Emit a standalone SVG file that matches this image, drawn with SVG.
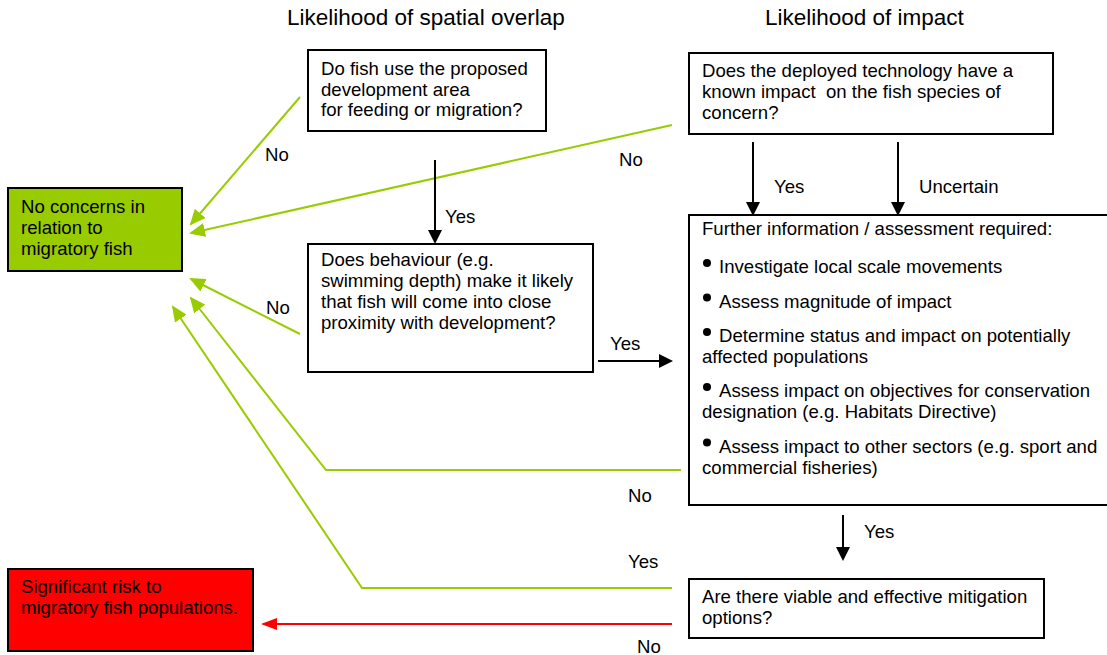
<svg xmlns="http://www.w3.org/2000/svg" width="1107" height="655" viewBox="0 0 1107 655">
<style>
text { font-family: "Liberation Sans", Arial, sans-serif; font-size: 18.6px; fill: #000; }
.title { font-size: 22.5px; }
.box { fill: #fff; stroke: #000; stroke-width: 2; }
.g { fill: none; stroke: #99cc00; stroke-width: 2; }
.k { fill: none; stroke: #000; stroke-width: 2; }
.r { fill: none; stroke: #ff0000; stroke-width: 2; }
</style>
<defs>
<marker id="ag" viewBox="0 0 16 14" refX="14" refY="7" markerWidth="16" markerHeight="14" orient="auto" markerUnits="userSpaceOnUse"><path d="M0,0 L16,7 L0,14 z" fill="#99cc00"/></marker>
<marker id="ak" viewBox="0 0 14 14" refX="12" refY="7" markerWidth="14" markerHeight="14" orient="auto" markerUnits="userSpaceOnUse"><path d="M0,0 L14,7 L0,14 z" fill="#000"/></marker>
<marker id="ar" viewBox="0 0 16 12" refX="14" refY="6" markerWidth="16" markerHeight="12" orient="auto" markerUnits="userSpaceOnUse"><path d="M0,0 L16,6 L0,12 z" fill="#ff0000"/></marker>
</defs>

<text class="title" x="287" y="25">Likelihood of spatial overlap</text>
<text class="title" x="765" y="25">Likelihood of impact</text>

<g id="connectors">
<line class="g" x1="300" y1="97" x2="191" y2="224" marker-end="url(#ag)"/>
<line class="g" x1="672" y1="125" x2="191" y2="233" marker-end="url(#ag)"/>
<line class="g" x1="300" y1="334" x2="191" y2="279" marker-end="url(#ag)"/>
<polyline class="g" points="681,470 326,470 191,298" marker-end="url(#ag)"/>
<polyline class="g" points="672,588 362,588 173,307" marker-end="url(#ag)"/>
<line class="r" x1="672" y1="624" x2="263" y2="624" marker-end="url(#ar)"/>
<line class="k" x1="435" y1="160" x2="435" y2="242" marker-end="url(#ak)"/>
<line class="k" x1="753" y1="142" x2="753" y2="214" marker-end="url(#ak)"/>
<line class="k" x1="898" y1="142" x2="898" y2="214" marker-end="url(#ak)"/>
<line class="k" x1="598" y1="361" x2="671" y2="361" marker-end="url(#ak)"/>
<line class="k" x1="843" y1="515" x2="843" y2="559" marker-end="url(#ak)"/>
<text x="265" y="161">No</text>
<text x="619" y="166">No</text>
<text x="445" y="223">Yes</text>
<text x="774" y="193">Yes</text>
<text x="919" y="193">Uncertain</text>
<text x="266" y="314">No</text>
<text x="610" y="350">Yes</text>
<text x="628" y="502">No</text>
<text x="864" y="538">Yes</text>
<text x="628" y="568">Yes</text>
<text x="637" y="653">No</text>
</g>

<g id="q-use-area">
<rect class="box" x="308" y="50" width="238" height="81"/>
<text x="321" y="75">Do fish use the proposed</text>
<text x="321" y="95.5">development area</text>
<text x="321" y="116">for feeding or migration?</text>
</g>

<g id="q-technology">
<rect class="box" x="689" y="53" width="364" height="81"/>
<text x="702" y="77">Does the deployed technology have a</text>
<text x="702" y="98" xml:space="preserve">known impact  on the fish species of</text>
<text x="702" y="119">concern?</text>
</g>

<g id="no-concerns">
<rect x="8" y="188" width="174" height="83" fill="#99cc00" stroke="#000" stroke-width="2"/>
<text x="21" y="213">No concerns in</text>
<text x="21" y="234">relation to</text>
<text x="21" y="255">migratory fish</text>
</g>

<g id="q-behaviour">
<rect class="box" x="308" y="244" width="285" height="128"/>
<text x="321" y="266">Does behaviour (e.g.</text>
<text x="321" y="287">swimming depth) make it likely</text>
<text x="321" y="308">that fish will come into close</text>
<text x="321" y="329">proximity with development?</text>
</g>

<g id="further-info">
<rect class="box" x="689" y="215" width="430" height="290"/>
<text x="702" y="235">Further information / assessment required:</text>
<circle cx="707" cy="263" r="4"/>
<text x="719" y="273">Investigate local scale movements</text>
<circle cx="707" cy="297.5" r="4"/>
<text x="719" y="307.5">Assess magnitude of impact</text>
<circle cx="707" cy="332" r="4"/>
<text x="719" y="342">Determine status and impact on potentially</text>
<text x="702" y="363">affected populations</text>
<circle cx="707" cy="387" r="4"/>
<text x="719" y="397">Assess impact on objectives for conservation</text>
<text x="702" y="418">designation (e.g. Habitats Directive)</text>
<circle cx="707" cy="442.5" r="4"/>
<text x="719" y="452.5">Assess impact to other sectors (e.g. sport and</text>
<text x="702" y="473.5">commercial fisheries)</text>
</g>

<g id="q-mitigation">
<rect class="box" x="689" y="579" width="355" height="59"/>
<text x="702" y="603">Are there viable and effective mitigation</text>
<text x="702" y="624">options?</text>
</g>

<g id="significant-risk">
<rect x="8" y="569" width="245" height="82" fill="#ff0000" stroke="#000" stroke-width="2"/>
<text x="21" y="593">Significant risk to</text>
<text x="21" y="614">migratory fish populations.</text>
</g>
</svg>
